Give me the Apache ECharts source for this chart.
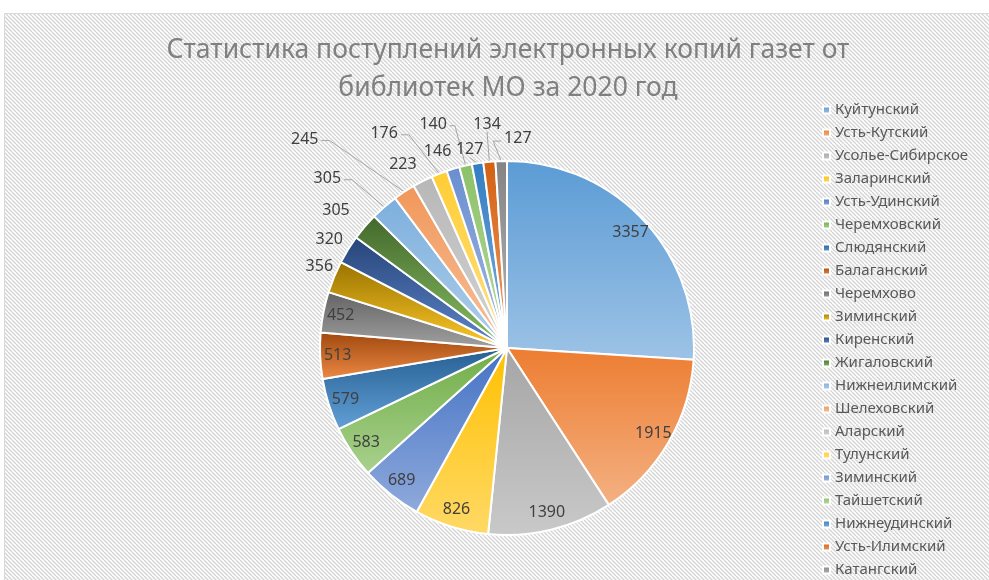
<!DOCTYPE html>
<html>
<head>
<meta charset="utf-8">
<script src="https://cdn.jsdelivr.net/npm/echarts@6/dist/echarts.min.js"></script>
<style>
  html, body { margin: 0; padding: 0; background: #fff; }
  #chart { width: 989px; height: 580px; }
</style>
</head>
<body>
<div id="chart"></div>
<script>
// данные
const chartTitle = 'Статистика поступлений электронных копий газет от\nбиблиотек МО за 2020 год';
const districts = ['Куйтунский', 'Усть-Кутский', 'Усолье-Сибирское', 'Заларинский', 'Усть-Удинский',
  'Черемховский', 'Слюдянский', 'Балаганский', 'Черемхово', 'Зиминский', 'Киренский', 'Жигаловский',
  'Нижнеилимский', 'Шелеховский', 'Аларский', 'Тулунский', 'Зиминский', 'Тайшетский',
  'Нижнеудинский', 'Усть-Илимский', 'Катангский'];
const copies = [3357, 1915, 1390, 826, 689, 583, 579, 513, 452, 356, 320, 305, 305, 245, 223, 176, 146, 140, 127, 134, 127];

// цвета Excel
const colors = ['#5B9BD5', '#ED7D31', '#A5A5A5', '#FFC000', '#4472C4', '#70AD47', '#255E91', '#9E480E',
  '#636363', '#997300', '#264478', '#43682B', '#7CAFDD', '#F1975A', '#B7B7B7', '#FFCD33', '#698ED0',
  '#8CC168', '#327DC2', '#D26012', '#848484'];

// подписи снаружи: [length, length2, линия]
const outer = {
  9: [0, 0, false], 10: [0, 0, false], 11: [8, 0, false], 12: [40, 18, true], 13: [65, 46, true],
  14: [20, 0, false], 15: [45, 19, true], 16: [20, 0, false], 17: [44, 4, true], 18: [14, 6, true],
  19: [38, 8, true], 20: [22, 8, true]
};
// сдвиг подписей [dx, dy] и вид выноски
const shift = { 9: [4, -10], 10: [0, -10], 11: [-4, -11], 12: [6, 2], 13: [1, 2], 14: [8, 1], 15: [-1, 2],
  16: [9, 2], 17: [0, 2], 18: [19, 0], 19: [28, 0], 20: [44, -1] };
const lineKind = { 12: 'left', 13: 'left', 15: 'left', 17: 'left', 18: 'below', 19: 'below', 20: 'right' };
const insideCount = 9;
const font = 'Noto Sans';

function lighter(hex, k) {
  let r = parseInt(hex.substr(1, 2), 16) / 255, g = parseInt(hex.substr(3, 2), 16) / 255, b = parseInt(hex.substr(5, 2), 16) / 255;
  let max = Math.max(r, g, b), min = Math.min(r, g, b), h = 0, s = 0, l = (max + min) / 2;
  if (max != min) {
    let d = max - min;
    s = l > 0.5 ? d / (2 - max - min) : d / (max + min);
    if (max == r) h = (g - b) / d + (g < b ? 6 : 0);
    else if (max == g) h = (b - r) / d + 2;
    else h = (r - g) / d + 4;
    h /= 6;
  }
  l = l + (1 - l) * k;
  function hue(p, q, t) {
    if (t < 0) t += 1; if (t > 1) t -= 1;
    if (t < 1 / 6) return p + (q - p) * 6 * t;
    if (t < 1 / 2) return q;
    if (t < 2 / 3) return p + (q - p) * (2 / 3 - t) * 6;
    return p;
  }
  let q = l < 0.5 ? l * (1 + s) : l + s - l * s, p = 2 * l - q;
  let rgb = s == 0 ? [l, l, l] : [hue(p, q, h + 1 / 3), hue(p, q, h), hue(p, q, h - 1 / 3)];
  return 'rgb(' + rgb.map(v => Math.round(v * 255)).join(',') + ')';
}

function stripes() {
  const c = document.createElement('canvas');
  c.width = 8; c.height = 8;
  const g = c.getContext('2d');
  g.fillStyle = '#fff'; g.fillRect(0, 0, 8, 8);
  g.strokeStyle = '#d4d4d4'; g.lineWidth = 1.3;
  for (let x = -8; x <= 8; x += 4) {
    g.beginPath(); g.moveTo(x, 0); g.lineTo(x + 8, 8); g.stroke();
  }
  return c;
}

// одинаковые имена в легенде
const names = districts.map((n, i) => districts.indexOf(n) < i ? n + ' ' : n);

const myChart = echarts.init(document.getElementById('chart'));

const option = {
  animation: false,
  graphic: [{
    type: 'rect', z: -100, silent: true,
    shape: { x: 4.5, y: 13.5, width: 1000, height: 600 },
    style: { fill: { image: stripes(), repeat: 'repeat' }, stroke: '#d9d9d9', lineWidth: 1 }
  }],
  title: {
    text: chartTitle,
    left: 503, top: 26, textAlign: 'center',
    textStyle: { fontFamily: font, fontSize: 26.5, fontWeight: 'normal', color: '#808080', lineHeight: 38 }
  },
  legend: {
    orient: 'vertical',
    left: 822, top: 102, padding: 0,
    icon: 'rect', itemWidth: 7, itemHeight: 7, itemGap: 7,
    textStyle: { fontFamily: font, fontSize: 15, color: '#595959', lineHeight: 16 },
    data: names
  },
  series: [
    {
      type: 'pie',
      center: [507, 348],
      radius: 187,
      startAngle: 90,
      avoidLabelOverlap: false,
      emphasis: { scale: false },
      itemStyle: { borderColor: '#fff', borderWidth: 2 },
      label: { show: true, position: 'outside', formatter: '{c}', color: '#404040', fontFamily: font, fontSize: 16 },
      labelLine: { show: true, smooth: false, lineStyle: { color: '#a6a6a6', width: 1 } },
      labelLayout: function (p) {
        const s = shift[p.dataIndex];
        if (!s) return {};
        const r = p.labelRect;
        const cx = r.x + r.width / 2 + s[0], cy = r.y + r.height / 2 + s[1];
        const res = { x: cx, y: cy, align: 'center', verticalAlign: 'middle' };
        const kind = lineKind[p.dataIndex];
        if (kind && p.labelLinePoints) {
          // выноска в стиле Excel: от сектора к подписи
          const e = p.labelLinePoints[0];
          const hw = r.width / 2, hh = r.height / 2;
          const bend = p.dataIndex === 17 ? 8 : 11;
          if (kind === 'left') res.labelLinePoints = [e, [cx + hw + bend, cy + 1], [cx + hw + 3, cy + 1]];
          else if (kind === 'right') res.labelLinePoints = [e, [cx - hw - 11, cy + 3], [cx - hw - 3, cy + 3]];
          else res.labelLinePoints = [e, [cx, cy + hh], [cx, cy + hh]];
        }
        return res;
      },
      data: names.map((n, i) => {
        const o = outer[i] || [0, 0, false];
        return {
          name: n,
          value: copies[i],
          itemStyle: {
            color: new echarts.graphic.LinearGradient(0, 0, 0, 1, [
              { offset: 0, color: colors[i] },
              { offset: 1, color: lighter(colors[i], 0.4) }
            ])
          },
          label: { show: i >= insideCount },
          labelLine: { show: o[2], length: o[0], length2: o[1] }
        };
      })
    },
    {
      // подписи внутри секторов
      type: 'pie',
      center: [507, 348],
      radius: [146, 187],
      startAngle: 90,
      silent: true,
      legendHoverLink: false,
      itemStyle: { color: 'rgba(0,0,0,0)', borderWidth: 0 },
      label: { show: true, position: 'inside', formatter: '{c}', color: '#404040', fontFamily: font, fontSize: 16 },
      labelLine: { show: false },
      data: names.map((n, i) => ({ name: n, value: copies[i], label: { show: i < insideCount } }))
    }
  ]
};

myChart.setOption(option);
</script>
</body>
</html>
